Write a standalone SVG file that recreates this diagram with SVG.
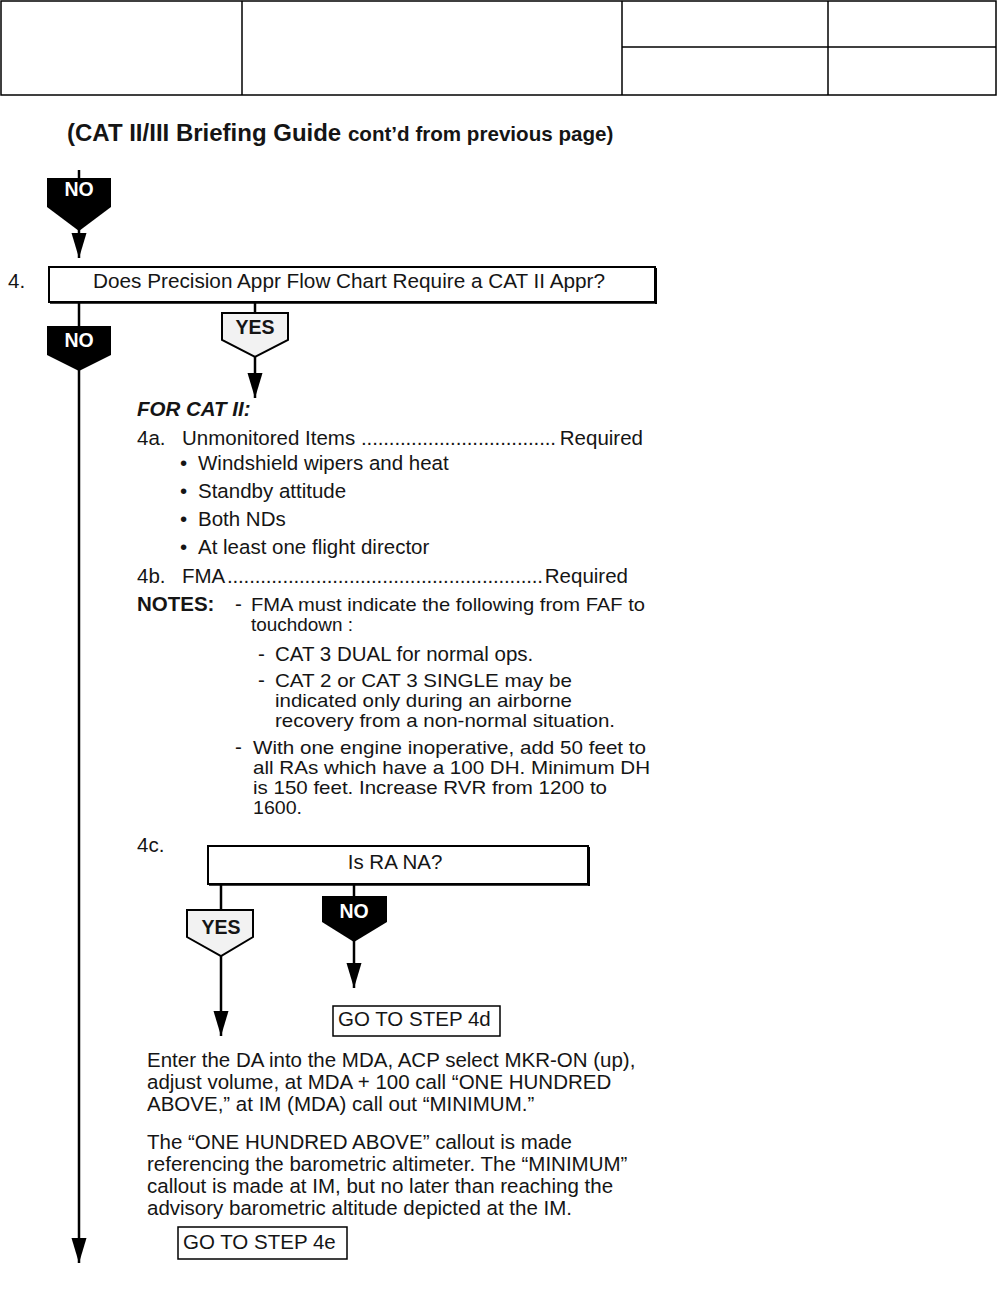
<svg xmlns="http://www.w3.org/2000/svg" width="997" height="1291" viewBox="0 0 997 1291">
<defs>
<style>
text{font-family:"Liberation Sans",Arial,sans-serif;fill:#151515}
.t{font-size:20.5px}
.n{font-size:19px}
.b{font-weight:bold}
.bi{font-weight:bold;font-style:italic}
.badge{font-family:"Liberation Sans",Arial,sans-serif;font-weight:bold;font-size:19.5px;text-anchor:middle}
.ln{stroke:#000;stroke-width:2.5;fill:none}
.box{fill:#fff;stroke:#000;stroke-width:2}
.hdr{fill:none;stroke:#000;stroke-width:1.5}
</style>
<marker id="ah" markerUnits="userSpaceOnUse" markerWidth="26" markerHeight="16" refX="25" refY="7.5" orient="auto" viewBox="0 0 26 16">
<path d="M0,0 L25,7.5 L0,15 z" fill="#000"/>
</marker>
</defs>

<g id="header">
<rect class="hdr" x="1" y="1" width="995" height="94"/>
<line class="hdr" x1="242" y1="1" x2="242" y2="95"/>
<line class="hdr" x1="622" y1="1" x2="622" y2="95"/>
<line class="hdr" x1="828" y1="1" x2="828" y2="95"/>
<line class="hdr" x1="622" y1="47" x2="996" y2="47"/>
</g>

<g id="title">
<text x="67" y="141" class="b" font-size="24">(CAT II/III Briefing Guide <tspan font-size="20.6">cont’d from previous page)</tspan></text>
</g>

<g id="connectors">
<line class="ln" x1="79" y1="170" x2="79" y2="180"/>
<line class="ln" x1="79" y1="228" x2="79" y2="258" marker-end="url(#ah)"/>
<line class="ln" x1="79" y1="302" x2="79" y2="328"/>
<line class="ln" x1="79" y1="369" x2="79" y2="1263" marker-end="url(#ah)"/>
<line class="ln" x1="255" y1="302" x2="255" y2="314"/>
<line class="ln" x1="255" y1="356" x2="255" y2="398" marker-end="url(#ah)"/>
<line class="ln" x1="221" y1="884" x2="221" y2="911"/>
<line class="ln" x1="221" y1="955" x2="221" y2="1036" marker-end="url(#ah)"/>
<line class="ln" x1="354" y1="884" x2="354" y2="897"/>
<line class="ln" x1="354" y1="940" x2="354" y2="988" marker-end="url(#ah)"/>
</g>

<g id="badge-no-top">
<polygon points="47,178 111,178 111,207 79,231 47,207" fill="#000"/>
<text class="badge" x="79" y="196" style="fill:#fff">NO</text>
</g>

<g id="step4">
<text class="t" x="8" y="288">4.</text>
<rect class="box" x="49" y="267" width="606" height="35"/>
<line x1="656" y1="268" x2="656" y2="304" stroke="#000" stroke-width="2"/>
<line x1="50" y1="303" x2="657" y2="303" stroke="#000" stroke-width="1.5"/>
<text class="t" x="349" y="288" text-anchor="middle" textLength="512" lengthAdjust="spacingAndGlyphs">Does Precision Appr Flow Chart Require a CAT II Appr?</text>
</g>

<g id="badge-no-4">
<polygon points="47,326 111,326 111,355 79,371 47,355" fill="#000"/>
<text class="badge" x="79" y="347" style="fill:#fff">NO</text>
</g>

<g id="badge-yes-4">
<polygon points="222,313 288,313 288,340 255,357 222,340" fill="#f2f2f2" stroke="#000" stroke-width="2"/>
<text class="badge" x="255" y="334">YES</text>
</g>

<g id="cat2-items">
<text class="t bi" x="137" y="416">FOR CAT II:</text>
<text class="t" x="137" y="445">4a.</text>
<text class="t" x="182" y="445">Unmonitored Items</text>
<text class="t" x="361" y="445" textLength="195" lengthAdjust="spacing">...................................</text>
<text class="t" x="643" y="445" text-anchor="end">Required</text>
<text class="t" x="180" y="470">•</text><text class="t" x="198" y="470">Windshield wipers and heat</text>
<text class="t" x="180" y="498">•</text><text class="t" x="198" y="498">Standby attitude</text>
<text class="t" x="180" y="526">•</text><text class="t" x="198" y="526">Both NDs</text>
<text class="t" x="180" y="554">•</text><text class="t" x="198" y="554">At least one flight director</text>
<text class="t" x="137" y="583">4b.</text>
<text class="t" x="182" y="583">FMA</text>
<text class="t" x="227" y="583" textLength="316" lengthAdjust="spacing">.........................................................</text>
<text class="t" x="628" y="583" text-anchor="end">Required</text>
</g>

<g id="notes">
<text class="t b" x="137" y="611">NOTES:</text>
<text class="t" x="235" y="611">-</text>
<text class="n" x="251" y="611" textLength="394" lengthAdjust="spacingAndGlyphs">FMA must indicate the following from FAF to</text>
<text class="n" x="251" y="631" textLength="102" lengthAdjust="spacingAndGlyphs">touchdown :</text>
<text class="t" x="258" y="661">-</text>
<text class="t" x="275" y="661">CAT 3 DUAL for normal ops.</text>
<text class="t" x="258" y="687">-</text>
<text class="n" x="275" y="687" textLength="297" lengthAdjust="spacingAndGlyphs">CAT 2 or CAT 3 SINGLE may be</text>
<text class="n" x="275" y="707" textLength="297" lengthAdjust="spacingAndGlyphs">indicated only during an airborne</text>
<text class="n" x="275" y="727" textLength="340" lengthAdjust="spacingAndGlyphs">recovery from a non-normal situation.</text>
<text class="t" x="235" y="754">-</text>
<text class="n" x="253" y="754" textLength="393" lengthAdjust="spacingAndGlyphs">With one engine inoperative, add 50 feet to</text>
<text class="n" x="253" y="774" textLength="397" lengthAdjust="spacingAndGlyphs">all RAs which have a 100 DH. Minimum DH</text>
<text class="n" x="253" y="794" textLength="354" lengthAdjust="spacingAndGlyphs">is 150 feet. Increase RVR from 1200 to</text>
<text class="n" x="253" y="814" textLength="49" lengthAdjust="spacingAndGlyphs">1600.</text>
</g>

<g id="step4c">
<text class="t" x="137" y="852">4c.</text>
<rect class="box" x="208" y="846" width="380" height="38"/>
<line x1="589" y1="847" x2="589" y2="886" stroke="#000" stroke-width="2"/>
<line x1="209" y1="885" x2="590" y2="885" stroke="#000" stroke-width="1.5"/>
<text class="t" x="395" y="869" text-anchor="middle">Is RA NA?</text>
</g>

<g id="badge-yes-4c">
<polygon points="187,910 253,910 253,937 221,956 187,937" fill="#f2f2f2" stroke="#000" stroke-width="2"/>
<text class="badge" x="221" y="934">YES</text>
</g>

<g id="badge-no-4c">
<polygon points="322,896 387,896 387,922 354,942 322,922" fill="#000"/>
<text class="badge" x="354" y="918" style="fill:#fff">NO</text>
</g>

<g id="goto-4d">
<rect x="333" y="1006" width="167" height="30" fill="#fff" stroke="#000" stroke-width="1.5"/>
<text class="t" x="338" y="1026">GO TO STEP 4d</text>
</g>

<g id="yes-action">
<text class="t" x="147" y="1067">Enter the DA into the MDA, ACP select MKR-ON (up),</text>
<text class="t" x="147" y="1089">adjust volume, at MDA + 100 call “ONE HUNDRED</text>
<text class="t" x="147" y="1111">ABOVE,” at IM (MDA) call out “MINIMUM.”</text>
<text class="t" x="147" y="1149">The “ONE HUNDRED ABOVE” callout is made</text>
<text class="t" x="147" y="1171">referencing the barometric altimeter. The “MINIMUM”</text>
<text class="t" x="147" y="1193">callout is made at IM, but no later than reaching the</text>
<text class="t" x="147" y="1215">advisory barometric altitude depicted at the IM.</text>
</g>

<g id="goto-4e">
<rect x="178" y="1227" width="169" height="32" fill="#fff" stroke="#000" stroke-width="1.5"/>
<text class="t" x="183" y="1249">GO TO STEP 4e</text>
</g>
</svg>
